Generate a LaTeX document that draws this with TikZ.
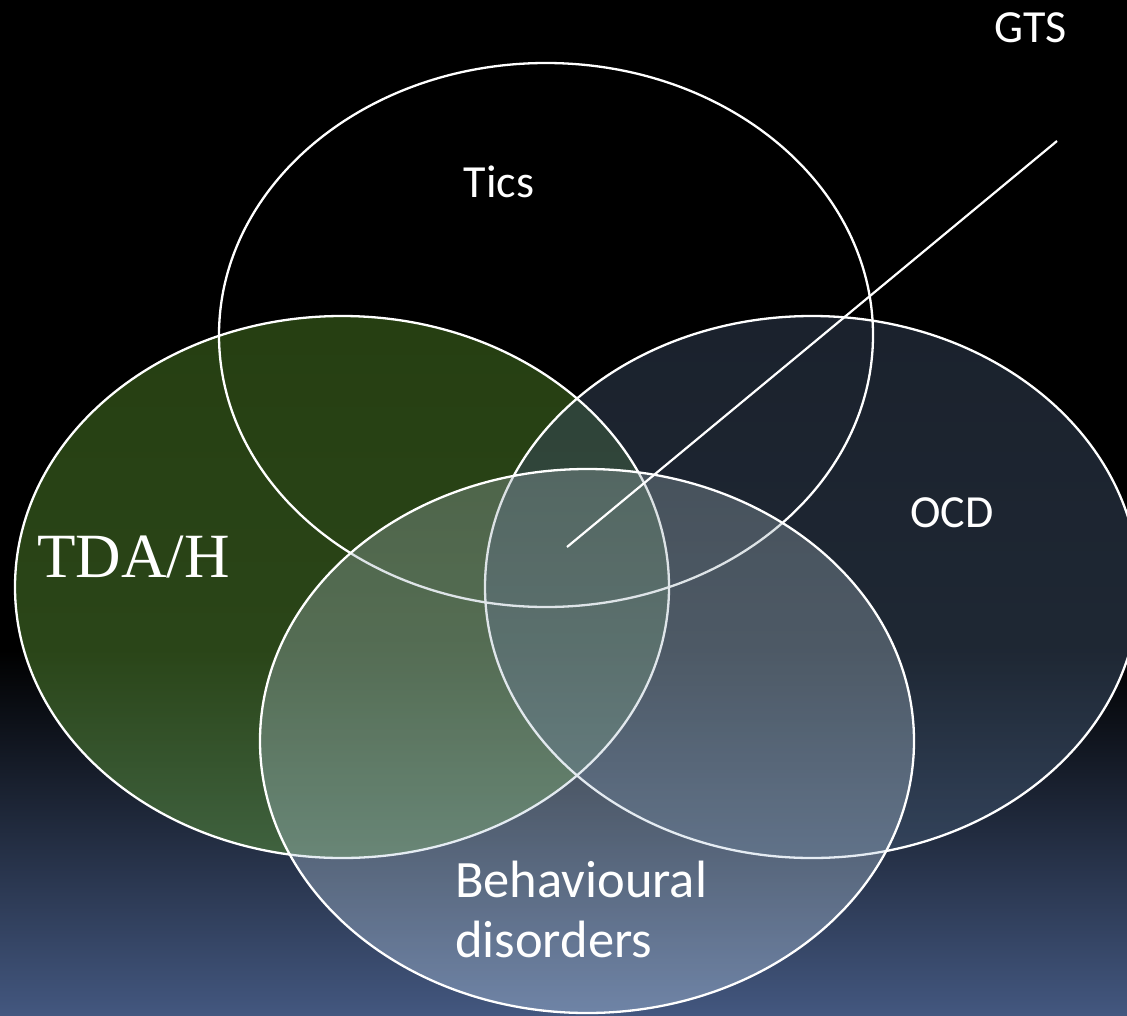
\documentclass[tikz,border=0pt]{standalone}
\usepackage{fontspec}
\setmainfont{Carlito}
\newfontfamily\serifttl{Liberation Serif}
\definecolor{bgbot}{HTML}{43577F}
\definecolor{tdatop}{HTML}{4C7E24}
\definecolor{tdabot}{HTML}{5A9339}
\definecolor{ocdtop}{HTML}{36445A}
\definecolor{ocdbot}{HTML}{415670}
\definecolor{behtop}{HTML}{98A8AE}
\definecolor{behbot}{HTML}{C2D9F2}
\tikzset{
  outline/.style={draw=white, line width=2.3pt},
  lbl/.style={text=white, inner sep=0pt, font=\fontsize{46}{55}\selectfont},
  behlbl/.style={text=white, inner sep=0pt, anchor=base west, font=\fontsize{52.5}{60}\selectfont},
}
\begin{document}
\begin{tikzpicture}[x=1pt,y=-1pt]
\useasboundingbox (0,0) rectangle (1127,1015);
% background
\fill[black] (0,0) rectangle (1127,1015);
\shade[top color=black, bottom color=bgbot] (0,650) rectangle (1127,1015);
\begin{scope}
\clip (0,0) rectangle (1127,1015);
% fills
\shade[top color=tdatop, bottom color=tdabot, fill opacity=0.5] (342,587) ellipse (327 and 271);
\shade[top color=ocdtop, bottom color=ocdbot, fill opacity=0.5] (812,587) ellipse (327 and 271);
% outlines
\draw[outline] (546,335) ellipse (327 and 272);
\draw[outline] (342,587) ellipse (327 and 271);
\draw[outline] (812,587) ellipse (327 and 271);
% behavioural
\shade[top color=behtop, bottom color=behbot, fill opacity=0.35] (587,741) ellipse (327 and 272);
\draw[outline] (587,741) ellipse (327 and 272);
\end{scope}
% GTS pointer
\coordinate (gtsA) at (567,547);
\coordinate (gtsB) at (1057,141);
\draw[white, line width=2.2pt] (gtsA) -- (gtsB);
% labels
\node[lbl, anchor=base] (tics) at (499,197) {Tics};
\node[lbl, anchor=base] (gts) at (1031,42) {GTS};
\node[lbl, anchor=base] (ocd) at (952,527) {OCD};
\node[text=white, inner sep=0pt, anchor=base west, font=\serifttl\fontsize{63}{70}\selectfont] (tdah) at (37,577) {TDA/H};
\node[behlbl] (beh1) at (455,897) {Behavioural};
\node[behlbl] (beh2) at (455,957) {disorders};
\end{tikzpicture}
\end{document}
